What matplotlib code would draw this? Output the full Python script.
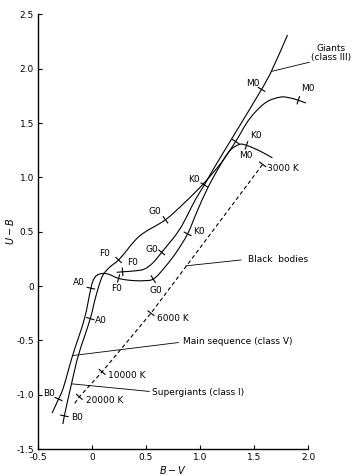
import matplotlib
matplotlib.use('Agg')
import matplotlib.pyplot as plt
import numpy as np
from matplotlib.path import Path
from matplotlib.patches import PathPatch

plt.rcParams['font.family'] = ['Liberation Sans Narrow', 'DejaVu Sans']

# curves as (B-V, U-B)
main_bv = [-0.37, -0.31, -0.27, -0.18, -0.07, -0.01, 0.01, 0.04, 0.09, 0.15, 0.246, 0.36, 0.47, 0.567,
           0.68, 0.78, 0.885, 0.97, 1.07, 1.18, 1.28, 1.37, 1.43, 1.55, 1.67]
main_ub = [-1.17, -1.04, -0.95, -0.64, -0.30, -0.02, 0.05, 0.095, 0.115, 0.11, 0.07, 0.052, 0.049, 0.064,
           0.18, 0.31, 0.48, 0.68, 0.90, 1.10, 1.25, 1.305, 1.295, 1.245, 1.18]

giant_bv = [0.228, 0.283, 0.40, 0.484, 0.56, 0.645, 0.81, 0.96, 1.04, 1.12, 1.29, 1.57, 1.66, 1.81]
giant_ub = [0.126, 0.131, 0.14, 0.156, 0.21, 0.31, 0.52, 0.80, 0.93, 1.07, 1.35, 1.81, 1.975, 2.31]

super_bv = [-0.27, -0.256, -0.19, -0.127, -0.016, 0.037, 0.098, 0.16, 0.246, 0.44, 0.68, 0.86,
            1.03, 1.20, 1.33, 1.46, 1.61, 1.75, 1.84, 1.91, 1.98]
super_ub = [-1.27, -1.195, -0.90, -0.64, -0.30, -0.09, 0.095, 0.17, 0.24, 0.46, 0.61, 0.77,
            0.94, 1.14, 1.33, 1.54, 1.69, 1.74, 1.73, 1.71, 1.685]

bb_bv = [-0.16, -0.118, 0.093, 0.546, 1.58]
bb_ub = [-1.08, -1.02, -0.79, -0.25, 1.12]

# spectral class marks
main_cls = ['B0', 'A0', 'F0', 'G0', 'K0', 'M0']
main_cls_bv = [-0.31, -0.01, 0.246, 0.567, 0.885, 1.43]
main_cls_ub = [-1.04, -0.02, 0.07, 0.064, 0.48, 1.295]

giant_cls = ['F0', 'G0', 'K0', 'M0']
giant_cls_bv = [0.283, 0.645, 1.04, 1.57]
giant_cls_ub = [0.131, 0.31, 0.93, 1.81]

super_cls = ['B0', 'A0', 'F0', 'G0', 'K0', 'M0']
super_cls_bv = [-0.256, -0.016, 0.246, 0.68, 1.33, 1.91]
super_cls_ub = [-1.195, -0.30, 0.24, 0.61, 1.33, 1.71]

bb_temps = ['20000 K', '10000 K', '6000 K', '3000 K']
bb_temp_bv = [-0.118, 0.093, 0.546, 1.58]
bb_temp_ub = [-1.02, -0.79, -0.25, 1.12]

xticks = [-0.5, 0, 0.5, 1.0, 1.5, 2.0]
xticklabels = ['-0.5', '0', '0.5', '1.0', '1.5', '2.0']
yticks = [-1.5, -1.0, -0.5, 0, 0.5, 1.0, 1.5, 2.0, 2.5]
yticklabels = ['-1.5', '-1.0', '-0.5', '0', '0.5', '1.0', '1.5', '2.0', '2.5']


def smooth_path(xs, ys):
    # smooth curve through the points, handed to matplotlib as cubic beziers
    p = np.column_stack([xs, ys])
    n = len(p)
    tang = np.zeros_like(p)
    for i in range(n):
        a = p[max(i - 1, 0)]
        b = p[min(i + 1, n - 1)]
        tang[i] = (b - a) / max(np.hypot(*(b - a)), 1e-9)
    verts = [p[0]]
    codes = [Path.MOVETO]
    for i in range(n - 1):
        h = np.hypot(*(p[i + 1] - p[i])) / 3
        verts += [p[i] + tang[i] * h, p[i + 1] - tang[i + 1] * h, p[i + 1]]
        codes += [Path.CURVE4] * 3
    return Path(verts, codes)


def tick_marks(ax, xs, ys, tx, ty, half=0.035):
    pts = np.column_stack([xs, ys])
    for x, y in zip(tx, ty):
        i = np.argmin(np.hypot(pts[:, 0] - x, pts[:, 1] - y))
        a = pts[max(i - 1, 0)]
        b = pts[min(i + 1, len(pts) - 1)]
        d = (b - a) / np.hypot(*(b - a))
        n = np.array([-d[1], d[0]])
        ax.plot([x - n[0] * half, x + n[0] * half], [y - n[1] * half, y + n[1] * half],
                color='black', lw=0.8)


fig = plt.figure(figsize=(3.6, 4.76), dpi=100)
ax = fig.add_axes([0.1056, 0.0567, 0.75, 0.913])

for xs, ys in [(main_bv, main_ub), (giant_bv, giant_ub), (super_bv, super_ub)]:
    ax.add_patch(PathPatch(smooth_path(xs, ys), fill=False, lw=0.8, color='black'))
ax.plot(bb_bv, bb_ub, color='black', lw=0.8, ls=(0, (3.5, 2.5)))

tick_marks(ax, main_bv, main_ub, main_cls_bv, main_cls_ub)
tick_marks(ax, giant_bv, giant_ub, giant_cls_bv, giant_cls_ub)
tick_marks(ax, super_bv, super_ub, super_cls_bv, super_cls_ub)
tick_marks(ax, bb_bv, bb_ub, bb_temp_bv, bb_temp_ub)

fs = 6.5
# class labels, placed next to their marks
main_lab = [(-0.395, -0.99), (-0.118, 0.032), (0.225, -0.02), (0.595, -0.037), (0.99, 0.505), (1.42, 1.206)]
giant_lab = [(0.38, 0.215), (0.55, 0.335), (0.94, 0.98), (1.486, 1.867)]
super_lab = [(-0.14, -1.21), (0.08, -0.317), (0.12, 0.30), (0.586, 0.69), (1.52, 1.39), (2.0, 1.816)]
for names, pos in [(main_cls, main_lab), (giant_cls, giant_lab), (super_cls, super_lab)]:
    for s, (x, y) in zip(names, pos):
        ax.text(x, y, s, fontsize=fs, ha='center', va='center', clip_on=False)

bb_lab = [(-0.06, -1.055), (0.147, -0.82), (0.605, -0.30), (1.62, 1.08)]
for s, (x, y) in zip(bb_temps, bb_lab):
    ax.text(x, y, s, fontsize=fs, ha='left', va='center')

# leader lines and curve names
ax.plot([1.66, 2.012], [1.975, 2.06], color='black', lw=0.6, clip_on=False)
ax.text(2.21, 2.145, 'Giants\n(class III)', fontsize=fs, ha='center', va='center',
        linespacing=1.0, clip_on=False)
ax.plot([0.87, 1.38], [0.186, 0.24], color='black', lw=0.6)
ax.text(1.44, 0.24, 'Black  bodies', fontsize=fs, ha='left', va='center')
ax.plot([-0.18, 0.80], [-0.64, -0.52], color='black', lw=0.6)
ax.text(0.847, -0.51, 'Main sequence (class V)', fontsize=fs, ha='left', va='center')
ax.plot([-0.19, 0.53], [-0.90, -0.97], color='black', lw=0.6)
ax.text(0.56, -0.976, 'Supergiants (class I)', fontsize=fs, ha='left', va='center')

ax.set_xlim(-0.5, 2.0)
ax.set_ylim(-1.5, 2.5)
ax.set_xticks(xticks)
ax.set_xticklabels(xticklabels)
ax.set_yticks(yticks)
ax.set_yticklabels(yticklabels)
ax.tick_params(direction='in', length=3, width=0.8, labelsize=fs, pad=3)
for side in ['top', 'right']:
    ax.spines[side].set_visible(False)
for side in ['left', 'bottom']:
    ax.spines[side].set_linewidth(1.0)
ax.set_xlabel('$B - V$', fontsize=fs + 0.5, labelpad=1)
ax.set_ylabel('$U - B$', fontsize=fs + 0.5, labelpad=0)

fig.savefig('out.png', dpi=100)
